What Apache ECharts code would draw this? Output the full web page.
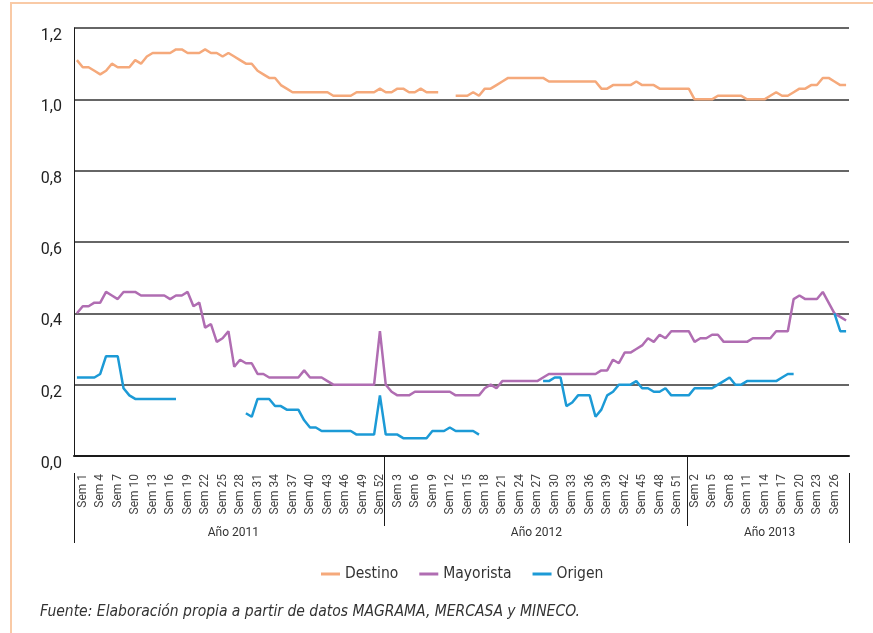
<!DOCTYPE html>
<html>
<head>
<meta charset="utf-8">
<script src="https://cdn.jsdelivr.net/npm/echarts@6.0.0/dist/echarts.min.js"></script>
<style>
  html, body { margin: 0; padding: 0; width: 873px; height: 633px; overflow: hidden; background: #ffffff; }
  #frame {
    position: absolute; left: 10px; top: 2px; width: 900px; height: 700px;
    border-left: 2px solid #f9caa6; border-top: 2px solid #f9caa6;
  }
  #chart { position: absolute; left: 0; top: 0; width: 873px; height: 633px; }
</style>
</head>
<body>
<div id="frame"></div>
<div id="chart"></div>
<script>
// semanas por año (2013 solo hasta la semana 29)
const years = ['2011', '2012', '2013']
const weeksPerYear = [52, 52, 29]

// Destino
const destino2011 = [1.11,1.09,1.09,1.08,1.07,1.08,1.10,1.09,1.09,1.09,
  1.11,1.10,1.12,1.13,1.13,1.13,1.13,1.14,1.14,1.13,
  1.13,1.13,1.14,1.13,1.13,1.12,1.13,1.12,1.11,1.10,
  1.10,1.08,1.07,1.06,1.06,1.04,1.03,1.02,1.02,1.02,
  1.02,1.02,1.02,1.02,1.01,1.01,1.01,1.01,1.02,1.02,
  1.02,1.02]
const destino2012 = [1.03,1.02,1.02,1.03,1.03,1.02,1.02,1.03,1.02,1.02,
  1.02,null,null,1.01,1.01,1.01,1.02,1.01,1.03,1.03,
  1.04,1.05,1.06,1.06,1.06,1.06,1.06,1.06,1.06,1.05,
  1.05,1.05,1.05,1.05,1.05,1.05,1.05,1.05,1.03,1.03,
  1.04,1.04,1.04,1.04,1.05,1.04,1.04,1.04,1.03,1.03,
  1.03,1.03]
const destino2013 = [1.03,1.03,1.00,1.00,1.00,1.00,1.01,1.01,1.01,1.01,
  1.01,1.00,1.00,1.00,1.00,1.01,1.02,1.01,1.01,1.02,
  1.03,1.03,1.04,1.04,1.06,1.06,1.05,1.04,1.04]

// Mayorista
const mayorista2011 = [0.40,0.42,0.42,0.43,0.43,0.46,0.45,0.44,0.46,0.46,
  0.46,0.45,0.45,0.45,0.45,0.45,0.44,0.45,0.45,0.46,
  0.42,0.43,0.36,0.37,0.32,0.33,0.35,0.25,0.27,0.26,
  0.26,0.23,0.23,0.22,0.22,0.22,0.22,0.22,0.22,0.24,
  0.22,0.22,0.22,0.21,0.20,0.20,0.20,0.20,0.20,0.20,
  0.20,0.20]
const mayorista2012 = [0.35,0.20,0.18,0.17,0.17,0.17,0.18,0.18,0.18,0.18,
  0.18,0.18,0.18,0.17,0.17,0.17,0.17,0.17,0.19,0.20,
  0.19,0.21,0.21,0.21,0.21,0.21,0.21,0.21,0.22,0.23,
  0.23,0.23,0.23,0.23,0.23,0.23,0.23,0.23,0.24,0.24,
  0.27,0.26,0.29,0.29,0.30,0.31,0.33,0.32,0.34,0.33,
  0.35,0.35]
const mayorista2013 = [0.35,0.35,0.32,0.33,0.33,0.34,0.34,0.32,0.32,0.32,
  0.32,0.32,0.33,0.33,0.33,0.33,0.35,0.35,0.35,0.44,
  0.45,0.44,0.44,0.44,0.46,0.43,0.40,0.39,0.38]

// Origen
const origen2011 = [0.22,0.22,0.22,0.22,0.23,0.28,0.28,0.28,0.19,0.17,
  0.16,0.16,0.16,0.16,0.16,0.16,0.16,0.16,null,null,
  null,null,null,null,null,null,null,null,null,0.12,
  0.11,0.16,0.16,0.16,0.14,0.14,0.13,0.13,0.13,0.10,
  0.08,0.08,0.07,0.07,0.07,0.07,0.07,0.07,0.06,0.06,
  0.06,0.06]
const origen2012 = [0.17,0.06,0.06,0.06,0.05,0.05,0.05,0.05,0.05,0.07,
  0.07,0.07,0.08,0.07,0.07,0.07,0.07,0.06,null,null,
  null,null,null,null,null,null,null,null,0.21,0.21,
  0.22,0.22,0.14,0.15,0.17,0.17,0.17,0.11,0.13,0.17,
  0.18,0.20,0.20,0.20,0.21,0.19,0.19,0.18,0.18,0.19,
  0.17,0.17]
const origen2013 = [0.17,0.17,0.19,0.19,0.19,0.19,0.20,0.21,0.22,0.20,
  0.20,0.21,0.21,0.21,0.21,0.21,0.21,0.22,0.23,0.23,
  null,null,null,null,null,null,0.40,0.35,0.35]

const yTicks = [0, 0.2, 0.4, 0.6, 0.8, 1.0, 1.2]

// categorías: "Sem N" de cada año, y año de cada índice
const weekLabels = []
const weekYear = []
years.forEach((y, k) => {
  for (let w = 1; w <= weeksPerYear[k]; w++) {
    weekLabels.push('Sem ' + w)
    weekYear.push(y)
  }
})
// índice de mitad de cada año (para el rótulo del año)
const yearMid = []
let acc = 0
weeksPerYear.forEach(n => {
  yearMid.push(acc + Math.floor(n / 2))
  acc += n
})
const lastIndex = weekLabels.length - 1

const destino = destino2011.concat(destino2012, destino2013)
const mayorista = mayorista2011.concat(mayorista2012, mayorista2013)
const origen = origen2011.concat(origen2012, origen2013)

const FONT = 'Roboto, "Liberation Sans", sans-serif'
const COND = '"DejaVu Sans Condensed", "Liberation Sans Narrow", sans-serif'

const chart = echarts.init(document.getElementById('chart'))

const lineSeries = (name, data, color) => ({
  name: name,
  type: 'line',
  data: data,
  symbol: 'none',
  connectNulls: false,
  lineStyle: { color: color, width: 2.5 },
  itemStyle: { color: color },
  emphasis: { disabled: true },
  animation: false
})

const hiddenY = (gridIndex) => ({
  type: 'value', gridIndex: gridIndex, show: false, min: 0, max: 1
})

const option = {
  backgroundColor: 'transparent',
  title: {
    text: 'Fuente: Elaboración propia a partir de datos MAGRAMA, MERCASA y MINECO.',
    left: 35,
    top: 599,
    textStyle: {
      fontFamily: COND,
      fontSize: 15.5,
      fontStyle: 'italic',
      fontWeight: 'normal',
      color: '#333333'
    }
  },
  legend: {
    left: 316,
    top: 561,
    icon: 'rect',
    itemWidth: 19,
    itemHeight: 3,
    itemGap: 21,
    textStyle: { fontFamily: COND, fontSize: 15.5, color: '#333333' },
    data: ['Destino', 'Mayorista', 'Origen']
  },
  grid: [
    { left: 74, right: 24, top: 28, bottom: 177 },
    // franja del año 2012, sólo para los separadores interiores
    { left: 384, right: 186, top: 28, bottom: 177 }
  ],
  xAxis: [
    {
      type: 'category',
      gridIndex: 0,
      data: weekLabels,
      boundaryGap: true,
      axisLine: { lineStyle: { color: '#1a1a1a', width: 2 } },
      axisTick: { show: false },
      axisLabel: {
        interval: (i) => i % 3 === 0 && i < lastIndex,
        rotate: 90,
        margin: 18,
        verticalAlign: 'top',
        fontFamily: FONT,
        fontSize: 12,
        color: '#444444'
      },
      splitLine: { show: false }
    },
    {
      // segundo nivel: rótulos de año y bordes exteriores
      type: 'category',
      gridIndex: 0,
      data: weekLabels,
      boundaryGap: true,
      position: 'bottom',
      offset: 17,
      axisLine: { show: false },
      axisTick: {
        show: true,
        interval: (i) => i === 0,
        length: 70,
        lineStyle: { color: '#1a1a1a', width: 1 }
      },
      axisLabel: {
        interval: (i) => yearMid.indexOf(i) >= 0,
        formatter: (v, i) => 'Año ' + weekYear[i],
        margin: 54,
        fontFamily: FONT,
        fontSize: 12,
        color: '#333333',
        padding: [0, 0, 0, 10]
      },
      splitLine: { show: false }
    },
    {
      // separadores entre años
      type: 'category',
      gridIndex: 1,
      data: ['2012'],
      boundaryGap: true,
      position: 'bottom',
      offset: 17,
      axisLine: { show: false },
      axisTick: { show: true, length: 70, lineStyle: { color: '#1a1a1a', width: 1 } },
      axisLabel: { show: false },
      splitLine: { show: false }
    }
  ],
  yAxis: [
    {
      type: 'value',
      gridIndex: 0,
      min: yTicks[0],
      max: yTicks[yTicks.length - 1],
      interval: 0.2,
      axisLine: { show: true, lineStyle: { color: '#1a1a1a', width: 1 } },
      axisTick: { show: false },
      axisLabel: {
        formatter: (v) => v.toFixed(1).replace('.', ','),
        margin: 12,
        verticalAlign: 'top',
        fontFamily: FONT,
        fontSize: 16,
        color: '#222222'
      },
      splitLine: { lineStyle: { color: '#333333', width: 1.5 } }
    },
    hiddenY(1)
  ],
  series: [
    lineSeries('Destino', destino, '#f5a97b'),
    lineSeries('Mayorista', mayorista, '#b06db2'),
    lineSeries('Origen', origen, '#1c9ad6')
  ]
}

chart.setOption(option)
</script>
</body>
</html>
